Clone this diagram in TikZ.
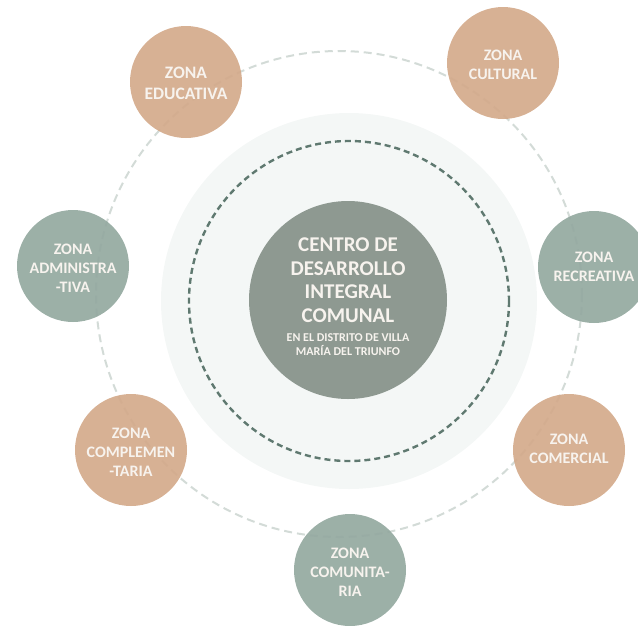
\documentclass[tikz,border=0pt]{standalone}
\usepackage{fontspec}
\setmainfont{Carlito}[BoldFont={Carlito Bold}]
\definecolor{tan}{HTML}{D4AA8B}
\definecolor{sage}{HTML}{94A9A0}
\definecolor{coregray}{HTML}{8E9991}
\definecolor{halo}{HTML}{F4F7F6}
\definecolor{darkdash}{HTML}{5F7970}
\definecolor{lightdash}{HTML}{D3DBD7}
\definecolor{txt}{HTML}{F7F3EE}
\newcommand{\zonetext}[4]{\raisebox{-#4pt}[\height][\depth]{\bfseries\fontsize{#1}{#2}\selectfont\begin{tabular}{@{}c@{}}#3\end{tabular}}}
\tikzset{
  zone/.style={circle, minimum size=112pt, inner sep=0pt, text=txt,
    fill opacity=0.92, text opacity=1},
  tanzone/.style={zone, fill=tan},
  sagezone/.style={zone, fill=sage},
}
\begin{document}
\begin{tikzpicture}[x=1pt,y=-1pt]
\useasboundingbox (0,0) rectangle (638,625);
% halo and rings
\fill[halo] (349,301) circle (188);
\draw[darkdash, line width=2.4pt, dash pattern=on 6pt off 4pt] (349,301) circle (160);
\draw[lightdash, line width=2pt, dash pattern=on 8pt off 5pt] (339,294) circle (243);
% core
\node[circle, fill=coregray, minimum size=198pt, inner sep=0pt, text=txt] (core) at (348,300) {};
\node[text=txt, inner sep=0pt, anchor=north] (coretext) at (348,235)
  {{\bfseries\fontsize{21}{23.5}\selectfont\begin{tabular}{@{}c@{}}CENTRO DE\\ DESARROLLO\\ INTEGRAL\\ COMUNAL\\[-4pt]
   {\fontsize{12}{13.3}\selectfont\begin{tabular}[t]{@{}c@{}}EN EL DISTRITO DE VILLA\\ MARÍA DEL TRIUNFO\end{tabular}}\end{tabular}}};
% zones
\node[tanzone] (edu) at (186,82) {\zonetext{17.5}{21}{ZONA\\ EDUCATIVA}{3}};
\node[tanzone] (cul) at (503,63) {\zonetext{16}{19}{ZONA\\ CULTURAL}{3}};
\node[sagezone] (adm) at (73,266) {\zonetext{16}{19}{ZONA\\ ADMINISTRA\\ -TIVA}{3.5}};
\node[sagezone] (rec) at (594,267) {\zonetext{16}{19}{ZONA\\ RECREATIVA}{1.5}};
\node[tanzone] (comp) at (131,450) {\zonetext{16}{19}{ZONA\\ COMPLEMEN\\ -TARIA}{3.5}};
\node[tanzone] (com) at (569,450) {\zonetext{16}{19}{ZONA\\ COMERCIAL}{0}};
\node[sagezone] (comu) at (350,570) {\zonetext{16}{19}{ZONA\\ COMUNITA-\\ RIA}{4}};
\end{tikzpicture}
\end{document}
